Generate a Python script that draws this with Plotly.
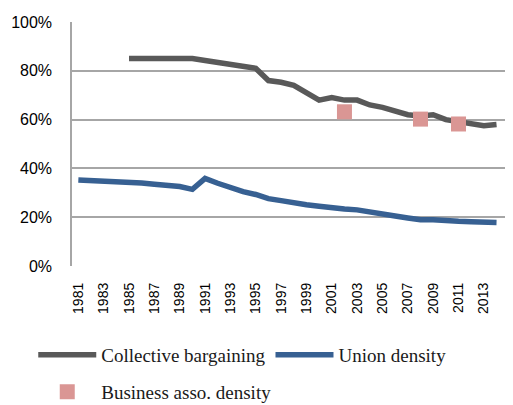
import plotly.graph_objects as go

years = list(range(1981, 2015))

# Collective bargaining coverage (%), available from 1985
cb_years = list(range(1985, 2015))
cb_values = [85, 85, 85, 85, 85, 85, 84.2, 83.4, 82.6, 81.8, 81,
             76, 75.3, 74, 71, 68, 69, 68, 68, 66, 65, 63.5, 62,
             61.5, 62, 60, 59, 58, 57.5, 58]

# Union density (%)
ud_values = [35.2, 35, 34.9, 34.8, 34.6, 34, 33.5, 33.2, 32.6, 31.4,
             35.9, 33.9, 32, 30.5, 29.3, 27.6, 26.8, 25.8, 25.1, 24.5,
             23.7, 23.4, 23, 22, 21.3, 20.5, 19.7, 19, 19, 18.9,
             18.3, 18.1, 17.9, 17.8]

# Business association density (%)
ba_years = [2002, 2008, 2011]
ba_values = [63.2, 60.2, 58.2]

tick_years = list(range(1981, 2015, 2))

fig = go.Figure()

fig.add_trace(go.Scatter(
    x=cb_years, y=cb_values, mode='lines', name='Collective bargaining',
    line=dict(color='#595959', width=5.5), legend='legend'
))
fig.add_trace(go.Scatter(
    x=years, y=ud_values, mode='lines', name='Union density',
    line=dict(color='#376092', width=5.5), legend='legend'
))
fig.add_trace(go.Scatter(
    x=ba_years, y=ba_values, mode='markers', name='Business asso. density',
    marker=dict(symbol='square', size=15, color='#DA9694'), legend='legend2'
))

legend_font = dict(family='Liberation Serif', size=19, color='#1a1a1a')

# page body adds an 8px margin, so the figure is 8px smaller each way
fig.update_layout(
    width=505, height=397,
    margin=dict(l=64, r=0, t=14, b=139),
    paper_bgcolor='white', plot_bgcolor='white',
    showlegend=True,
    legend=dict(
        orientation='h', xref='container', yref='container',
        x=0.05, y=0.126, xanchor='left', yanchor='middle',
        font=legend_font, itemwidth=58, bgcolor='rgba(0,0,0,0)'
    ),
    legend2=dict(
        orientation='h', xref='container', yref='container',
        x=0.05, y=0.033, xanchor='left', yanchor='middle',
        font=legend_font, itemwidth=58, bgcolor='rgba(0,0,0,0)'
    ),
)

fig.update_xaxes(
    range=[1980.5, 2015.3], automargin=False,
    tickvals=tick_years, ticktext=[str(y) for y in tick_years],
    tickangle=-90, tickfont=dict(family='Liberation Sans', size=14, color='black'),
    showgrid=False, zeroline=False, showline=False, ticks='',
    ticklabelstandoff=13
)
fig.update_yaxes(
    range=[0, 100], dtick=20, ticksuffix='%', automargin=False,
    tickfont=dict(family='Liberation Sans', size=16, color='black'),
    showgrid=True, gridcolor='#A6A6A6', gridwidth=1.5,
    showline=True, linecolor='#A6A6A6', linewidth=1.5,
    zeroline=False, ticks='', ticklabelstandoff=15
)

fig.write_html("out.html")
